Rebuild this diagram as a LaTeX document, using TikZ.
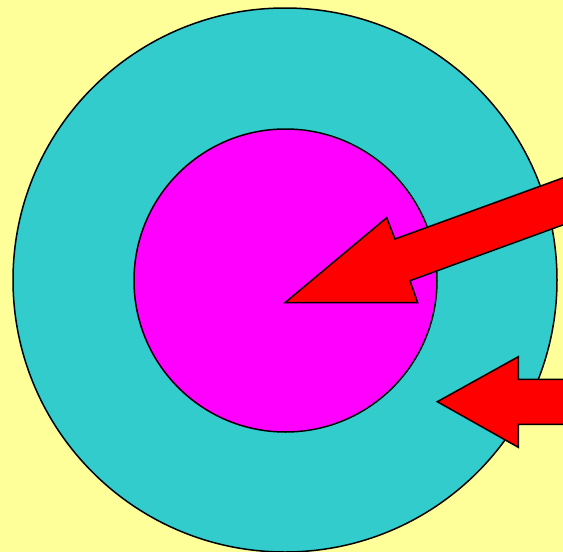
\documentclass[tikz,border=0pt]{standalone}
\usepackage{xcolor}
\definecolor{bgyellow}{HTML}{FFFF99}
\definecolor{ringcyan}{HTML}{33CCCC}
\definecolor{coremag}{HTML}{FF00FF}
\definecolor{arrred}{HTML}{FF0000}
\begin{document}
\begin{tikzpicture}[x=1pt,y=-1pt,
  shape outline/.style={draw=black,line width=1.5pt,line join=miter}]
\useasboundingbox (0,0) rectangle (563,552);
\clip (0,0) rectangle (563,552);
\fill[bgyellow] (0,0) rectangle (563,552);
\path[shape outline,fill=ringcyan] (285,280) circle[radius=272];
\path[shape outline,fill=coremag] (285.5,280.5) circle[radius=151.5];
\path[shape outline,fill=arrred] (285,302.7) -- (386.7,217.7) -- (395,239) -- (575,173.5) -- (575,220.5) -- (410,280.7) -- (417.7,302.7) -- cycle;
\path[shape outline,fill=arrred] (437.3,401.7) -- (518.3,356.7) -- (518.3,379.3) -- (575,379.3) -- (575,424.3) -- (518.3,424.3) -- (518.3,447.3) -- cycle;
\end{tikzpicture}
\end{document}
